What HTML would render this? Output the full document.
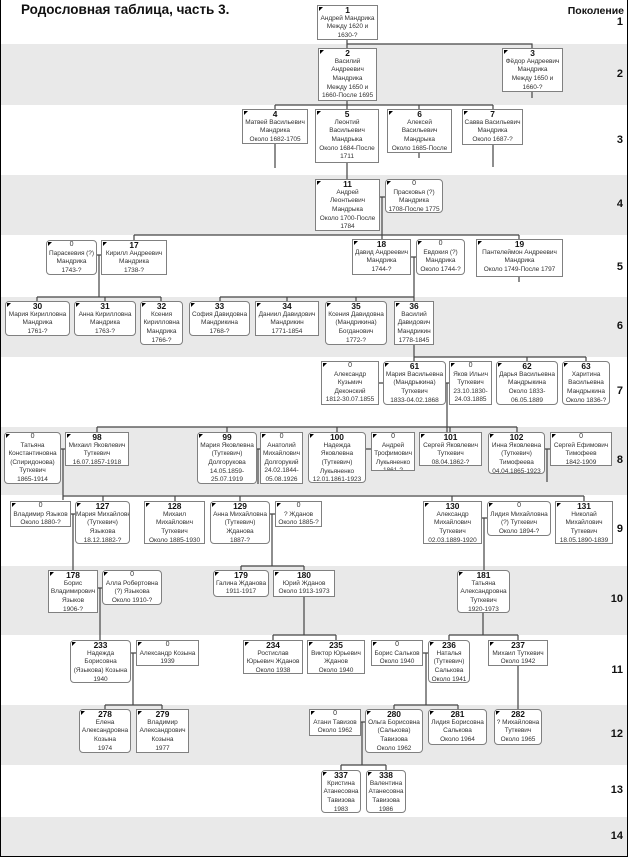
<!DOCTYPE html>
<html><head><meta charset="utf-8"><style>
body{margin:0;width:628px;height:858px;position:relative;overflow:hidden;background:#fff;font-family:"Liberation Sans",sans-serif}
.b{position:absolute;left:0;width:627px}
.g{background:#e9e9e9}
.n{position:absolute;box-sizing:border-box;border:1px solid #808080;background:#fff;font-size:6.5px;line-height:8.6px;text-align:center;color:#333;white-space:nowrap;overflow:hidden;letter-spacing:-0.05px}
.n::before{content:"";position:absolute;left:1px;top:1px;border-top:4px solid #000;border-right:4px solid transparent}
.r{border-radius:4px}
.n b{display:block;font-size:8.4px;line-height:8.8px;color:#111}
.n i{display:block;font-style:normal;font-size:7px;line-height:8.6px;color:#333}
.gl{position:absolute;right:5px;font-weight:bold;font-size:11px;color:#111}
svg{position:absolute;left:0;top:0}
</style></head><body>
<div class="b g" style="top:44px;height:61px"></div>
<div class="b g" style="top:175px;height:60px"></div>
<div class="b g" style="top:297px;height:60px"></div>
<div class="b g" style="top:427px;height:68px"></div>
<div class="b g" style="top:566px;height:69px"></div>
<div class="b g" style="top:705px;height:60px"></div>
<div class="b g" style="top:817px;height:39px"></div>
<div style="position:absolute;left:0;top:0;width:626px;height:856px;border-left:1px solid #000;border-right:1px solid #000;border-bottom:1px solid #000"></div>
<div style="position:absolute;left:21px;top:2px;font-weight:bold;font-size:13.5px;color:#111">Родословная таблица, часть 3.</div>
<div style="position:absolute;right:4px;top:5px;font-weight:bold;font-size:10.5px;color:#111">Поколение</div>
<div class="gl" style="top:16px">1</div><div class="gl" style="top:68px">2</div><div class="gl" style="top:134px">3</div><div class="gl" style="top:198px">4</div><div class="gl" style="top:261px">5</div><div class="gl" style="top:320px">6</div><div class="gl" style="top:385px">7</div><div class="gl" style="top:454px">8</div><div class="gl" style="top:523px">9</div><div class="gl" style="top:593px">10</div><div class="gl" style="top:664px">11</div><div class="gl" style="top:728px">12</div><div class="gl" style="top:784px">13</div><div class="gl" style="top:830px">14</div>

<svg width="628" height="858" stroke="#444" stroke-width="1.2" fill="none">
<path d="M347 39V48M347 44H532V48M532 92V98"/>
<path d="M347 100V109M275 105H493M275 105V109M419 105V109M493 105V109M275 144V168M419 152V158M493 145V167M347 163V179"/>
<path d="M380 197H385M382 197V239M134 235H519M134 235V240M519 235V239M519 277V282"/>
<path d="M97 255H101M99 255V297M37 297H161M37 297V301M105 297V301M161 297V301"/>
<path d="M411 257H416M414 257V301M220 297H414M220 297V301M287 297V301M356 297V301"/>
<path d="M414 345V361M414 357H586M527 357V361M586 357V361M379 383H383M446 383H449M447 383V432"/>
<path d="M97 427H517M97 427V432M227 427V432M337 427V432M450 427V432M517 427V432"/>
<path d="M61 449H65M63 449V500M63 496H584M103 496V501M175 496V501M240 496V501M452 496V501M584 496V501"/>
<path d="M257 449H260M258 449V484M366 449H371M545 449H550M547 449V482"/>
<path d="M71 514H75M73 514V570M270 514H275M272 514V566M241 566H304M241 566V570M304 566V570M482 518H487M484 518V570"/>
<path d="M98 588H102M100 588V640M304 597V635M273 635H336M273 635V640M336 635V640M483 613V635M449 635H518M449 635V640M518 635V640"/>
<path d="M131 653H136M133 653V705M105 705H162M105 705V709M162 705V709M423 653H428M426 653V705M394 705H458M394 705V709M458 705V709M518 666V709"/>
<path d="M361 722H365M362 722V765M341 765H386M341 765V770M386 765V770"/>
</svg>

<div class="n" style="left:317px;top:5px;width:61px;height:35px"><b>1</b>Андрей Мандрика<br>Между 1620 и<br>1630-?</div>
<div class="n" style="left:318px;top:48px;width:59px;height:53px"><b>2</b>Василий<br>Андреевич<br>Мандрика<br>Между 1650 и<br>1660-После 1695</div>
<div class="n" style="left:502px;top:48px;width:61px;height:44px"><b>3</b>Фёдор Андреевич<br>Мандрика<br>Между 1650 и<br>1660-?</div>
<div class="n" style="left:242px;top:109px;width:66px;height:35px"><b>4</b>Матвей Васильевич<br>Мандрика<br>Около 1682-1705</div>
<div class="n" style="left:315px;top:109px;width:64px;height:54px"><b>5</b>Леонтий<br>Васильевич<br>Мандрыка<br>Около 1684-После<br>1711</div>
<div class="n" style="left:387px;top:109px;width:65px;height:44px"><b>6</b>Алексей<br>Васильевич<br>Мандрыка<br>Около 1685-После<br>1723</div>
<div class="n" style="left:462px;top:109px;width:61px;height:36px"><b>7</b>Савва Васильевич<br>Мандрика<br>Около 1687-?</div>
<div class="n" style="left:315px;top:179px;width:65px;height:52px"><b>11</b>Андрей<br>Леонтьевич<br>Мандрыка<br>Около 1700-После<br>1784</div>
<div class="n r" style="left:385px;top:179px;width:58px;height:34px"><i>0</i>Прасковья (?)<br>Мандрика<br>1708-После 1775</div>
<div class="n r" style="left:46px;top:240px;width:51px;height:35px"><i>0</i>Параскевия (?)<br>Мандрика<br>1743-?</div>
<div class="n" style="left:101px;top:240px;width:66px;height:35px"><b>17</b>Кирилл Андреевич<br>Мандрика<br>1738-?</div>
<div class="n" style="left:352px;top:239px;width:59px;height:36px"><b>18</b>Давид Андреевич<br>Мандрика<br>1744-?</div>
<div class="n r" style="left:416px;top:239px;width:49px;height:36px"><i>0</i>Евдокия (?)<br>Мандрика<br>Около 1744-?</div>
<div class="n" style="left:476px;top:239px;width:87px;height:38px"><b>19</b>Пантелеймон Андреевич<br>Мандрика<br>Около 1749-После 1797</div>
<div class="n r" style="left:5px;top:301px;width:65px;height:35px"><b>30</b>Мария Кирилловна<br>Мандрика<br>1761-?</div>
<div class="n r" style="left:74px;top:301px;width:62px;height:35px"><b>31</b>Анна Кирилловна<br>Мандрика<br>1763-?</div>
<div class="n r" style="left:140px;top:301px;width:43px;height:44px"><b>32</b>Ксения<br>Кирилловна<br>Мандрика<br>1766-?</div>
<div class="n r" style="left:189px;top:301px;width:61px;height:35px"><b>33</b>София Давидовна<br>Мандрикина<br>1768-?</div>
<div class="n" style="left:255px;top:301px;width:64px;height:35px"><b>34</b>Даниил Давидович<br>Мандрикин<br>1771-1854</div>
<div class="n r" style="left:325px;top:301px;width:62px;height:44px"><b>35</b>Ксения Давидовна<br>(Мандрикина)<br>Богданович<br>1772-?</div>
<div class="n" style="left:394px;top:301px;width:40px;height:44px"><b>36</b>Василий<br>Давидович<br>Мандрикин<br>1778-1845</div>
<div class="n" style="left:321px;top:361px;width:58px;height:44px"><i>0</i>Александр<br>Кузьмич<br>Деконский<br>1812-30.07.1855</div>
<div class="n r" style="left:383px;top:361px;width:63px;height:44px"><b>61</b>Мария Васильевна<br>(Мандрыкина)<br>Туткевич<br>1833-04.02.1868</div>
<div class="n" style="left:449px;top:361px;width:43px;height:44px"><i>0</i>Яков Ильич<br>Туткевич<br>23.10.1830-<br>24.03.1885</div>
<div class="n r" style="left:496px;top:361px;width:62px;height:44px"><b>62</b>Дарья Васильевна<br>Мандрыкина<br>Около 1833-<br>06.05.1889</div>
<div class="n r" style="left:562px;top:361px;width:48px;height:44px"><b>63</b>Харитина<br>Васильевна<br>Мандрыкина<br>Около 1836-?</div>
<div class="n r" style="left:4px;top:432px;width:57px;height:52px"><i>0</i>Татьяна<br>Константиновна<br>(Спиридонова)<br>Туткевич<br>1865-1914</div>
<div class="n" style="left:65px;top:432px;width:64px;height:34px"><b>98</b>Михаил Яковлевич<br>Туткевич<br>16.07.1857-1918</div>
<div class="n r" style="left:197px;top:432px;width:60px;height:52px"><b>99</b>Мария Яковлевна<br>(Туткевич)<br>Долгорукова<br>14.05.1859-<br>25.07.1919</div>
<div class="n" style="left:260px;top:432px;width:43px;height:52px"><i>0</i>Анатолий<br>Михайлович<br>Долгорукий<br>24.02.1844-<br>05.08.1926</div>
<div class="n r" style="left:308px;top:432px;width:58px;height:51px"><b>100</b>Надежда<br>Яковлевна<br>(Туткевич)<br>Лукьяненко<br>12.01.1861-1923</div>
<div class="n" style="left:371px;top:432px;width:44px;height:39px"><i>0</i>Андрей<br>Трофимович<br>Лукьяненко<br>1861-?</div>
<div class="n" style="left:419px;top:432px;width:63px;height:34px"><b>101</b>Сергей Яковлевич<br>Туткевич<br>08.04.1862-?</div>
<div class="n r" style="left:488px;top:432px;width:57px;height:42px"><b>102</b>Инна Яковлевна<br>(Туткевич)<br>Тимофеева<br>04.04.1865-1923</div>
<div class="n" style="left:550px;top:432px;width:62px;height:34px"><i>0</i>Сергей Ефимович<br>Тимофеев<br>1842-1909</div>
<div class="n" style="left:10px;top:501px;width:61px;height:26px"><i>0</i>Владимир Языков<br>Около 1880-?</div>
<div class="n r" style="left:75px;top:501px;width:55px;height:43px"><b>127</b>Мария Михайловна<br>(Туткевич)<br>Языкова<br>18.12.1882-?</div>
<div class="n" style="left:144px;top:501px;width:61px;height:43px"><b>128</b>Михаил<br>Михайлович<br>Туткевич<br>Около 1885-1930</div>
<div class="n r" style="left:210px;top:501px;width:60px;height:43px"><b>129</b>Анна Михайловна<br>(Туткевич)<br>Жданова<br>1887-?</div>
<div class="n" style="left:275px;top:501px;width:47px;height:26px"><i>0</i>? Жданов<br>Около 1885-?</div>
<div class="n" style="left:423px;top:501px;width:59px;height:43px"><b>130</b>Александр<br>Михайлович<br>Туткевич<br>02.03.1889-1920</div>
<div class="n r" style="left:487px;top:501px;width:64px;height:35px"><i>0</i>Лидия Михайловна<br>(?) Туткевич<br>Около 1894-?</div>
<div class="n" style="left:555px;top:501px;width:58px;height:43px"><b>131</b>Николай<br>Михайлович<br>Туткевич<br>18.05.1890-1839</div>
<div class="n" style="left:48px;top:570px;width:50px;height:43px"><b>178</b>Борис<br>Владимирович<br>Языков<br>1906-?</div>
<div class="n r" style="left:102px;top:570px;width:60px;height:35px"><i>0</i>Алла Робертовна<br>(?) Языкова<br>Около 1910-?</div>
<div class="n r" style="left:213px;top:570px;width:56px;height:27px"><b>179</b>Галина Жданова<br>1911-1917</div>
<div class="n" style="left:273px;top:570px;width:62px;height:27px"><b>180</b>Юрий Жданов<br>Около 1913-1973</div>
<div class="n r" style="left:457px;top:570px;width:53px;height:43px"><b>181</b>Татьяна<br>Александровна<br>Туткевич<br>1920-1973</div>
<div class="n r" style="left:70px;top:640px;width:61px;height:43px"><b>233</b>Надежда<br>Борисовна<br>(Языкова) Козына<br>1940</div>
<div class="n" style="left:136px;top:640px;width:63px;height:26px"><i>0</i>Александр Козына<br>1939</div>
<div class="n" style="left:243px;top:640px;width:60px;height:34px"><b>234</b>Ростислав<br>Юрьевич Жданов<br>Около 1938</div>
<div class="n" style="left:307px;top:640px;width:58px;height:34px"><b>235</b>Виктор Юрьевич<br>Жданов<br>Около 1940</div>
<div class="n" style="left:371px;top:640px;width:52px;height:26px"><i>0</i>Борис Сальков<br>Около 1940</div>
<div class="n r" style="left:428px;top:640px;width:42px;height:43px"><b>236</b>Наталья<br>(Туткевич)<br>Салькова<br>Около 1941</div>
<div class="n" style="left:488px;top:640px;width:60px;height:26px"><b>237</b>Михаил Туткевич<br>Около 1942</div>
<div class="n r" style="left:79px;top:709px;width:52px;height:44px"><b>278</b>Елена<br>Александровна<br>Козына<br>1974</div>
<div class="n" style="left:136px;top:709px;width:53px;height:44px"><b>279</b>Владимир<br>Александрович<br>Козына<br>1977</div>
<div class="n" style="left:309px;top:709px;width:52px;height:27px"><i>0</i>Атани Тавизов<br>Около 1962</div>
<div class="n r" style="left:365px;top:709px;width:58px;height:44px"><b>280</b>Ольга Борисовна<br>(Салькова)<br>Тавизова<br>Около 1962</div>
<div class="n r" style="left:428px;top:709px;width:59px;height:36px"><b>281</b>Лидия Борисовна<br>Салькова<br>Около 1964</div>
<div class="n r" style="left:494px;top:709px;width:48px;height:36px"><b>282</b>? Михайловна<br>Туткевич<br>Около 1965</div>
<div class="n r" style="left:321px;top:770px;width:40px;height:43px"><b>337</b>Кристина<br>Атанесовна<br>Тавизова<br>1983</div>
<div class="n r" style="left:366px;top:770px;width:40px;height:43px"><b>338</b>Валентина<br>Атанесовна<br>Тавизова<br>1986</div>
</body></html>
